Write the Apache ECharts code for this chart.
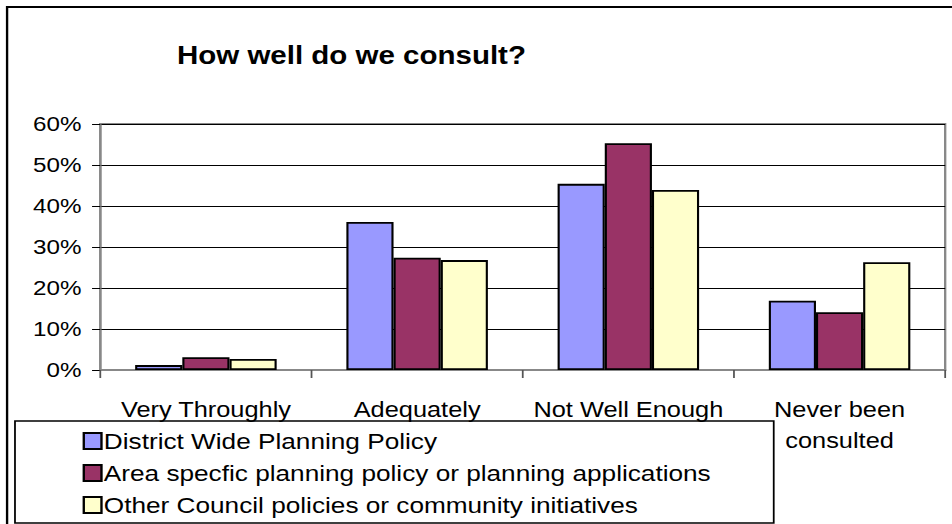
<!DOCTYPE html>
<html><head><meta charset="utf-8">
<script src="https://cdn.jsdelivr.net/npm/echarts@6/dist/echarts.min.js"></script>
<style>html,body{margin:0;padding:0;background:#fff;overflow:hidden}
#wrap{width:952px;height:524px;overflow:hidden}
#c{width:807px;height:580px;transform:scaleX(1.18);transform-origin:0 0}</style>
</head><body><div id="wrap"><div id="c"></div></div>
<script>
const categories = ['Very Throughly', 'Adequately', 'Not Well Enough', 'Never been\nconsulted'];
const seriesNames = ['District Wide Planning Policy', 'Area specfic planning policy or planning applications', 'Other Council policies or community initiatives'];
const districtWide = [1.2, 36.1, 45.4, 16.9];
const areaSpecific = [3.1, 27.4, 55.3, 14.1];
const otherCouncil = [2.7, 26.8, 43.9, 26.3];
const yTicks = [0, 10, 20, 30, 40, 50, 60];
const colors = ['#9999ff', '#993366', '#ffffcc'];
const F = 'Liberation Sans, Arial, sans-serif';

const chart = echarts.init(document.getElementById('c'), null, { renderer: 'svg' });
const data = [districtWide, areaSpecific, otherCouncil];
chart.setOption({
  animation: false,
  title: { text: 'How well do we consult?', left: 145, top: 38,
    textStyle: { fontFamily: F, fontSize: 25, fontWeight: 'bold', color: '#000' } },
  grid: { left: 85, top: 124, right: 6, bottom: 210, show: true, borderColor: '#888', borderWidth: 2 },
  xAxis: { type: 'category', data: categories,
    axisLine: { lineStyle: { color: '#888', width: 2 } },
    axisTick: { show: true, length: 8, lineStyle: { color: '#555', width: 1.5 } },
    axisLabel: { interval: 0, fontFamily: F, fontSize: 21.5, color: '#000', margin: 24, lineHeight: 31 } },
  yAxis: { type: 'value', min: yTicks[0], max: yTicks[yTicks.length-1], interval: 10,
    axisLine: { show: true, lineStyle: { color: '#888', width: 2 } },
    axisTick: { show: true, length: 7, lineStyle: { color: '#000' } },
    splitLine: { lineStyle: { color: '#000', width: 1 } },
    axisLabel: { fontFamily: F, fontSize: 20.5, color: '#000', margin: 16, formatter: v => v + '%' } },
  legend: { orient: 'vertical', left: 65, top: 425, itemGap: 10, itemWidth: 15, itemHeight: 16, icon: 'rect',
    itemStyle: { borderColor: '#000', borderWidth: 2 },
    textStyle: { fontFamily: F, fontSize: 22.2, color: '#000', padding: [0,0,0,-3] },
    data: seriesNames },
  graphic: [
    { type: 'rect', shape: { x: 6, y: 7, width: 900, height: 600 }, style: { fill: 'none', stroke: '#000', lineWidth: 2 }, z: 0 },
    { type: 'rect', shape: { x: 12.7, y: 421, width: 643, height: 102 }, style: { fill: 'none', stroke: '#000', lineWidth: 1.5 }, z: 0 }
  ],
  series: seriesNames.map((n, i) => ({
    name: n, type: 'bar', data: data[i], barGap: '0%', barCategoryGap: '33%',
    itemStyle: { color: colors[i], borderColor: '#000', borderWidth: 1.8 }
  }))
});
</script></body></html>
